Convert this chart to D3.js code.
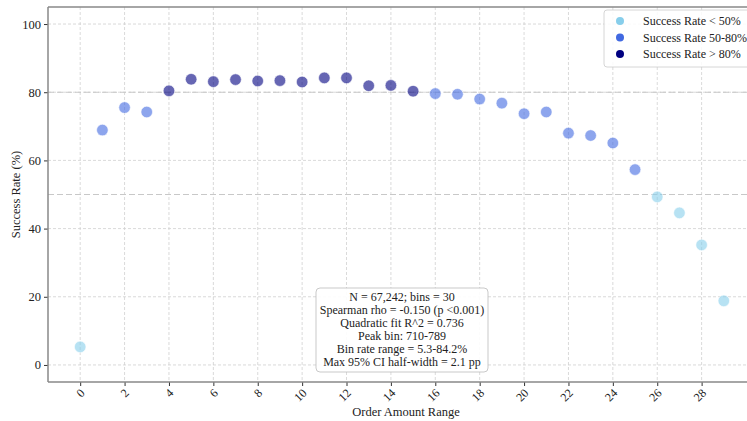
<!DOCTYPE html>
<html>
<head>
<meta charset="utf-8">
<style>
  body { margin: 0; background: #fff; }
  svg { display: block; font-family: "Liberation Serif", "DejaVu Serif", serif; }
</style>
<script src="https://cdn.jsdelivr.net/npm/d3@7"></script>
</head>
<body>
<svg id="chart" width="747" height="421"></svg>
<script>
// bins 0..29, success rate per bin (%)
let bins = d3.range(30)
let rates = [5.3, 68.9, 75.5, 74.2, 80.4, 83.8, 83.1, 83.7, 83.3, 83.4,
             83.0, 84.2, 84.2, 81.9, 82.0, 80.3, 79.6, 79.4, 78.0, 76.8,
             73.7, 74.2, 68.0, 67.3, 65.1, 57.3, 49.3, 44.6, 35.2, 18.8]
let xTicks = d3.range(0, 29, 2)
let yTicks = [0, 20, 40, 60, 80, 100]
let refLines = [80, 50]
let legendLabels = ["Success Rate < 50%", "Success Rate 50-80%", "Success Rate > 80%"]
let legendColors = ["#87CEEB", "#4169E1", "#000080"]
let statsLines = [
  "N = 67,242; bins = 30",
  "Spearman rho = -0.150 (p <0.001)",
  "Quadratic fit R^2 = 0.736",
  "Peak bin: 710-789",
  "Bin rate range = 5.3-84.2%",
  "Max 95% CI half-width = 2.1 pp"
]

let margin = { left: 48, top: 7, bottom: 39 }
let width = 747, height = 421
let serif = "Liberation Serif, DejaVu Serif, serif"
let svg = d3.select("#chart")

let x = d3.scaleLinear().domain([-1.45, 30.45]).range([margin.left, 756])
let y = d3.scaleLinear().domain([-5, 105]).range([height - margin.bottom, margin.top])

function colorFor(v) {
  if (v < 50) return legendColors[0]
  if (v <= 80) return legendColors[1]
  return legendColors[2]
}

// grid
let grid = svg.append("g")
grid.selectAll(".gx").data(xTicks).enter().append("line")
  .attr("x1", d => x(d)).attr("x2", d => x(d))
  .attr("y1", y.range()[1]).attr("y2", y.range()[0])
  .attr("stroke", "#d0d0d0").attr("stroke-width", 0.8).attr("stroke-dasharray", "3,2")
grid.selectAll(".gy").data(yTicks).enter().append("line")
  .attr("x1", margin.left).attr("x2", width)
  .attr("y1", d => y(d)).attr("y2", d => y(d))
  .attr("stroke", "#d0d0d0").attr("stroke-width", 0.8).attr("stroke-dasharray", "3,2")

// reference lines
svg.selectAll(".ref").data(refLines).enter().append("line")
  .attr("x1", margin.left).attr("x2", width)
  .attr("y1", d => y(d)).attr("y2", d => y(d))
  .attr("stroke", "#c8c8c8").attr("stroke-width", 1.2).attr("stroke-dasharray", "6,3")

// points
svg.selectAll(".pt").data(bins).enter().append("circle")
  .attr("cx", d => x(d))
  .attr("cy", d => y(rates[d]))
  .attr("r", 5.8)
  .attr("fill", d => colorFor(rates[d]))
  .attr("fill-opacity", 0.6)
  .attr("stroke", "#fff").attr("stroke-width", 0.6)

// axes
let axisX = d3.axisBottom(x).tickValues(xTicks).tickSize(4).tickPadding(3)
let gx = svg.append("g")
  .attr("transform", `translate(0,${height - margin.bottom})`)
  .call(axisX)
  .attr("font-family", serif)
gx.select(".domain").remove()
gx.selectAll("line").attr("stroke", "#333")
gx.selectAll("text")
  .attr("font-size", 12).attr("fill", "#222")
  .attr("text-anchor", "end")
  .attr("dy", "0.3em")
  .attr("transform", "translate(-2,5) rotate(-45)")
  .attr("y", 6).attr("x", 0)

let axisY = d3.axisLeft(y).tickValues(yTicks).tickSize(4).tickPadding(3)
let gy = svg.append("g")
  .attr("transform", `translate(${margin.left},0)`)
  .call(axisY)
  .attr("font-family", serif)
gy.select(".domain").remove()
gy.selectAll("line").attr("stroke", "#333")
gy.selectAll("text").attr("font-size", 12.5).attr("fill", "#222")

// spines
svg.append("line").attr("x1", margin.left).attr("x2", margin.left)
  .attr("y1", margin.top).attr("y2", height - margin.bottom)
  .attr("stroke", "#888").attr("stroke-width", 1.5)
svg.append("line").attr("x1", margin.left).attr("x2", width)
  .attr("y1", height - margin.bottom).attr("y2", height - margin.bottom)
  .attr("stroke", "#888").attr("stroke-width", 1.5)
svg.append("line").attr("x1", margin.left).attr("x2", width)
  .attr("y1", margin.top).attr("y2", margin.top)
  .attr("stroke", "#888").attr("stroke-width", 1.5)

// axis labels
svg.append("text").attr("x", 406).attr("y", 416)
  .attr("text-anchor", "middle").attr("font-size", 12.5).attr("fill", "#222")
  .text("Order Amount Range")
svg.append("text")
  .attr("transform", `translate(20,${(margin.top + height - margin.bottom) / 2}) rotate(-90)`)
  .attr("text-anchor", "middle").attr("font-size", 12.5).attr("fill", "#222")
  .text("Success Rate (%)")

// legend
let lg = svg.append("g")
lg.append("rect").attr("x", 604).attr("y", 10).attr("width", 150).attr("height", 57)
  .attr("rx", 3).attr("fill", "#fff").attr("fill-opacity", 0.85)
  .attr("stroke", "#ccc").attr("stroke-width", 0.8)
legendLabels.forEach((lab, i) => {
  lg.append("circle").attr("cx", 620).attr("cy", 21 + i * 16.5).attr("r", 4)
    .attr("fill", legendColors[i])
  lg.append("text").attr("x", 643).attr("y", 25 + i * 16.5)
    .attr("font-size", 12).attr("fill", "#222").text(lab)
})

// stats box
let sb = svg.append("g")
sb.append("rect").attr("x", 316).attr("y", 288).attr("width", 172).attr("height", 84)
  .attr("rx", 4).attr("fill", "#fff").attr("fill-opacity", 0.9)
  .attr("stroke", "#bbb").attr("stroke-width", 0.8)
statsLines.forEach((t, i) => {
  sb.append("text").attr("x", 402).attr("y", 301 + i * 12.9)
    .attr("text-anchor", "middle").attr("font-size", 12).attr("fill", "#222").text(t)
})
</script>
</body>
</html>
